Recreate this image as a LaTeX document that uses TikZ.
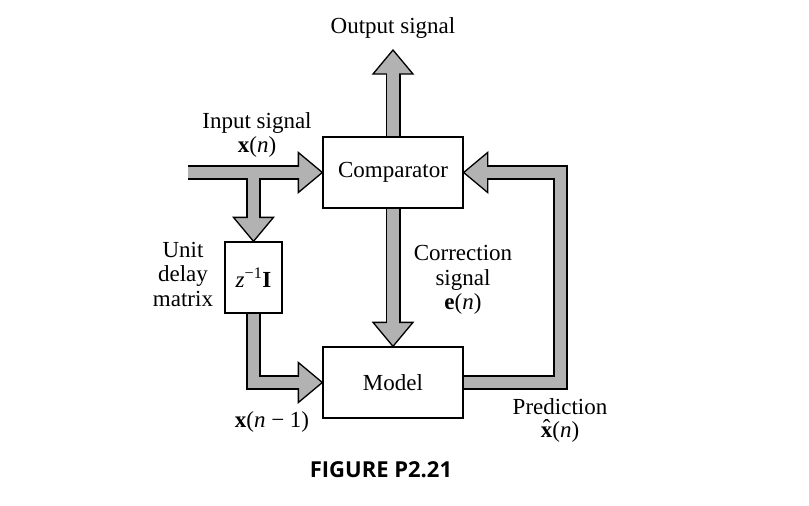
\documentclass[tikz,border=0pt]{standalone}
\usepackage{fontspec}
\setmainfont{Liberation Serif}
\newfontfamily\figfont{Open Sans}
\usetikzlibrary{backgrounds}
\definecolor{pipegray}{HTML}{B2B2B2}
\tikzset{
  blk/.style={rectangle, draw=black, fill=white, line width=1.3pt, minimum height=71pt,
              inner sep=2pt, font=\fontsize{23}{24}\selectfont},
  pipeout/.style={draw=black, line width=15pt, line join=miter},
  pipein/.style={draw=pipegray, line width=11.5pt, line join=miter},
  hd/.style={draw=black, fill=pipegray, line width=1.3pt, line join=miter},
  lbl/.style={align=center, inner sep=0pt, font=\fontsize{23}{24.5}\selectfont},
}
\newcommand{\fathead}[2]{\draw[hd, shift={(#1)}, rotate=#2] (0,0) -- (-24,20) -- (-24,-20) -- cycle;}
\newcommand{\hatx}{\ooalign{\textbf{x}\cr\hidewidth\raisebox{0.15ex}{ˆ}\hidewidth\cr}}

\begin{document}
\begin{tikzpicture}[x=1pt, y=-1pt]
\useasboundingbox (0,0) rectangle (809,506);

\node[blk, minimum width=140pt] (comp) at (393,172.5) {Comparator};
\node[blk, minimum width=140pt] (model) at (393,382.5) {Model};
\node[blk, minimum width=57pt] (delay) at (253.5,277.5) {\textit{z}\textsuperscript{−1}\textbf{I}};
\coordinate (insrc) at (188,172.5);
\coordinate (outtip) at (393,50);

\node[lbl] (outlbl) at (393,28) {Output signal};
\node[lbl] (inlbl) at (257,135) {Input signal\\\textbf{x}(\textit{n})};
\node[lbl] (delaylbl) at (183,274) {Unit\\delay\\matrix};
\node[lbl] (corrlbl) at (463,280) {Correction\\signal\\\textbf{e}(\textit{n})};
\node[lbl] (pastlbl) at (272,422) {\textbf{x}(\textit{n} − 1)};
\node[lbl, font=\fontsize{23}{23}\selectfont] (predlbl) at (560,420) {Prediction\\\hatx(\textit{n})};
\node[inner sep=0pt, font=\figfont\bfseries\fontsize{22}{24}\selectfont] (figlbl) at (381,470) {FIGURE P2.21};

\begin{scope}[on background layer]
% shafts, black rim
\draw[pipeout] (insrc) -- ([xshift=-24pt]comp.west);
\draw[pipeout] (delay.north |- insrc) -- ([yshift=24pt]delay.north);
\draw[pipeout] (comp.north) -- ([yshift=-24pt]outtip);
\draw[pipeout] (comp.south) -- ([yshift=24pt]model.north);
\draw[pipeout] (delay.south) |- ([xshift=-24pt]model.west);
\draw[pipeout] (model.east) -- ++(97,0) |- ([xshift=24pt]comp.east);
% heads
\fathead{comp.west}{0}
\fathead{delay.north}{-90}
\fathead{outtip}{90}
\fathead{model.north}{-90}
\fathead{model.west}{0}
\fathead{comp.east}{180}
% shafts, grey core
\draw[pipein] (insrc) -- ([xshift=-20pt]comp.west);
\draw[pipein] (delay.north |- insrc) -- ([yshift=20pt]delay.north);
\draw[pipein] (comp.north) -- ([yshift=-20pt]outtip);
\draw[pipein] (comp.south) -- ([yshift=20pt]model.north);
\draw[pipein] (delay.south) |- ([xshift=-20pt]model.west);
\draw[pipein] (model.east) -- ++(97,0) |- ([xshift=20pt]comp.east);
\end{scope}
\end{tikzpicture}
\end{document}
